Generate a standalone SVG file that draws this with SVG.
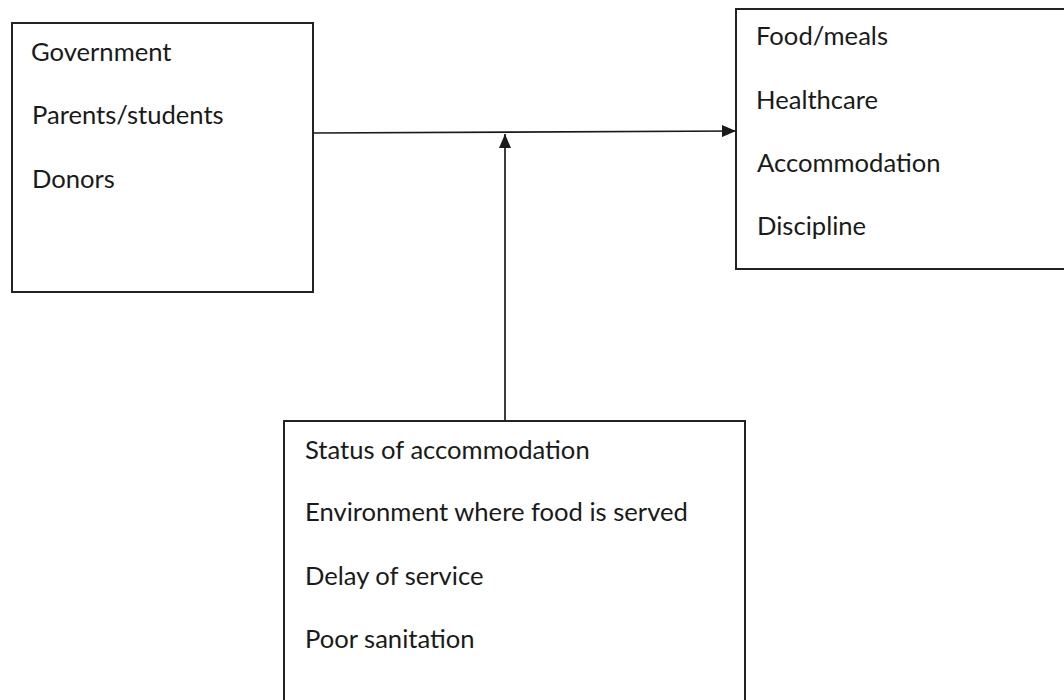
<svg xmlns="http://www.w3.org/2000/svg" width="1064" height="700" viewBox="0 0 1064 700">
<style>
.box{fill:#fff;stroke:#222;stroke-width:2}
.t{font-family:Lato,"Open Sans","Liberation Sans",sans-serif;font-size:25.6px;fill:#1a1a1a}
.c{stroke:#1a1a1a;stroke-width:1.7;fill:none}
</style>
<defs>
<marker id="ah" viewBox="0 0 14 12" refX="14" refY="6" markerWidth="14" markerHeight="12" markerUnits="userSpaceOnUse" orient="auto">
<path d="M0,0 L14,6 L0,12 Z" fill="#1a1a1a"/>
</marker>
</defs>
<rect width="1064" height="700" fill="#fff"/>
<g id="connectors">
<line class="c" x1="313" y1="133" x2="736" y2="131" marker-end="url(#ah)"/>
<line class="c" x1="505" y1="421" x2="505" y2="134" marker-end="url(#ah)"/>
</g>
<g id="inputs">
<rect class="box" x="12" y="23" width="301" height="269"/>
<text class="t" x="31" y="61">Government</text>
<text class="t" x="32" y="124">Parents/students</text>
<text class="t" x="32" y="188">Donors</text>
</g>
<g id="outputs">
<rect class="box" x="736" y="9" width="340" height="260"/>
<text class="t" x="756" y="45">Food/meals</text>
<text class="t" x="756" y="109">Healthcare</text>
<text class="t" x="757" y="172">Accommodation</text>
<text class="t" x="757" y="235">Discipline</text>
</g>
<g id="moderators">
<rect class="box" x="284" y="421" width="461" height="300"/>
<text class="t" x="305" y="459">Status of accommodation</text>
<text class="t" x="305" y="521">Environment where food is served</text>
<text class="t" x="305" y="585">Delay of service</text>
<text class="t" x="305" y="648">Poor sanitation</text>
</g>
</svg>
